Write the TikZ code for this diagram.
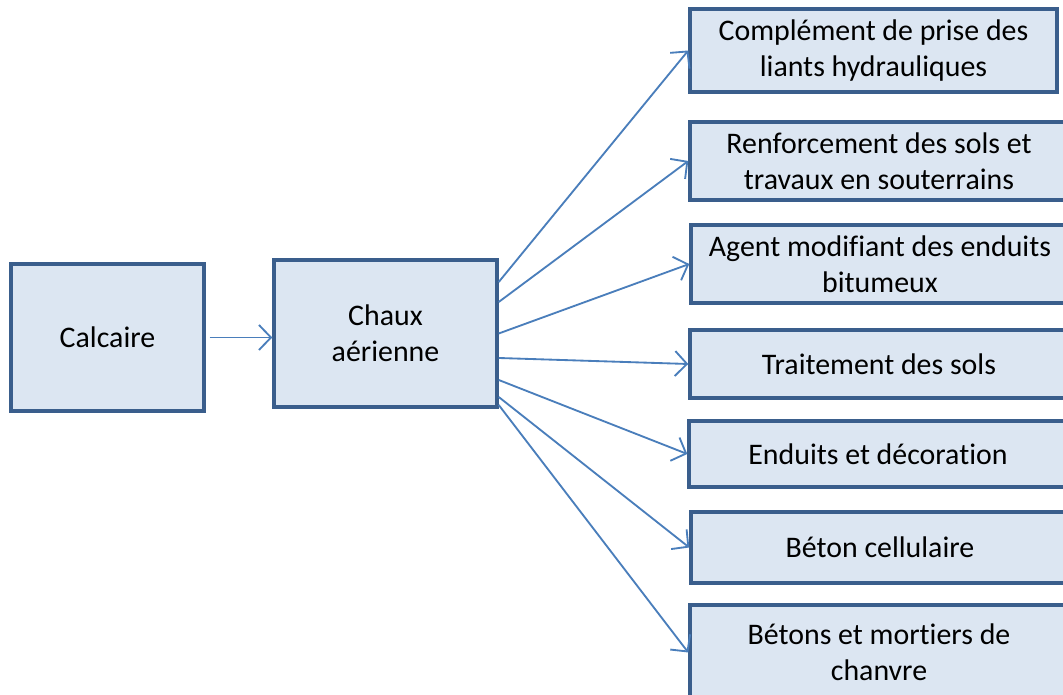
\documentclass[tikz,border=0pt]{standalone}
\usepackage{fontspec}
\setmainfont[Ligatures=NoCommon]{Carlito}
\usepackage{tikz}
\usetikzlibrary{arrows.meta}

\definecolor{boxfill}{RGB}{220,230,242}
\definecolor{boxline}{RGB}{58,94,140}
\definecolor{arrline}{RGB}{74,126,187}

\begin{document}
\begin{tikzpicture}[
    x=0.02cm, y=-0.02cm,
    box/.style={rectangle, draw=boxline, fill=boxfill, line width=2pt, align=center, inner sep=2pt},
    usage/.style={box, minimum width=7.56cm},
    arr/.style={draw=arrline, line width=1.05pt, -{Straight Barb[length=2.4mm, width=5mm, line width=1.05pt]}},
    font=\fontsize{17}{20.5}\selectfont
]
\useasboundingbox (0,0) rectangle (1063,695);

% source and product
\node[box, minimum width=3.86cm, minimum height=2.94cm] (calcaire) at (107.5,337.5) {Calcaire};
\node[box, minimum width=4.46cm, minimum height=2.94cm] (chaux) at (385.5,333.5) {Chaux\\a\'erienne};
\draw[arr] ([xshift=0.8mm]calcaire.east) -- (calcaire.east -| chaux.west);

% uses of the lime
\node[box, minimum width=7.34cm, minimum height=1.66cm] (u1) at (873.5,50.5) {Compl\'ement de prise des\\liants hydrauliques};
\node[usage, minimum height=1.56cm] (u2) at (879,161) {Renforcement des sols et\\travaux en souterrains};
\node[usage, minimum height=1.56cm] (u3) at (880,264) {Agent modifiant des enduits\\bitumeux};
\node[usage, minimum height=1.36cm] (u4) at (879,364) {Traitement des sols};
\node[usage, minimum height=1.32cm] (u5) at (878,454) {Enduits et d\'ecoration};
\node[usage, minimum height=1.42cm] (u6) at (880,547.5) {B\'eton cellulaire};
\node[usage, minimum height=1.9cm] (u7) at (879,652.5) {B\'etons et mortiers de\\chanvre};

\draw[arr] ([yshift=1.03cm]chaux.east) -- (u1.west);
\draw[arr] ([yshift=0.63cm]chaux.east) -- (u2.west);
\draw[arr] (chaux.east) -- (u3.west);
\draw[arr] ([yshift=-0.49cm]chaux.east) -- (u4.west);
\draw[arr] ([yshift=-0.93cm]chaux.east) -- (u5.west);
\draw[arr] ([yshift=-1.27cm]chaux.east) -- (u6.west);
\draw[arr] ([yshift=-1.43cm]chaux.east) -- (u7.west);

\end{tikzpicture}
\end{document}
